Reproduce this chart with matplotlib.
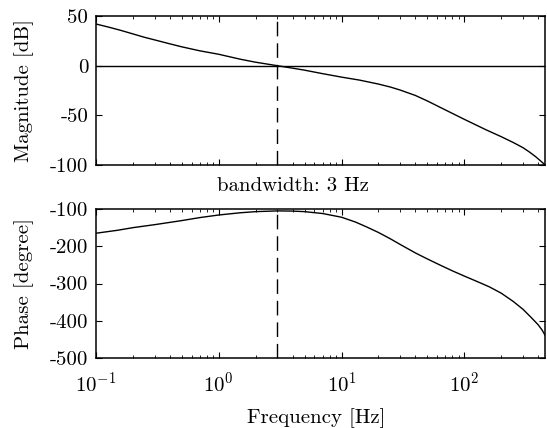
import matplotlib
matplotlib.use("Agg")
import matplotlib.pyplot as plt
import numpy as np

# values
mag_freq = [0.1, 0.13, 0.16, 0.2, 0.25, 0.3, 0.4, 0.5, 0.7, 1, 1.5, 2, 3, 4,
            5, 7, 10, 14, 20, 25, 30, 40, 50, 70, 100, 150, 200, 250, 300,
            340, 380, 410, 440, 455]
magnitude = [42, 38.5, 35.5, 32, 28.5, 26, 22, 19, 15, 11.5, 6.5, 3.5, 0,
             -2.5, -4.5, -8, -11.5, -14.5, -18.5, -21.5, -24.5, -30, -35.5,
             -44.5, -54, -64.5, -71.5, -77.3, -82.5, -87, -91.5, -95, -98.3,
             -100]

ph_freq = [0.1, 0.15, 0.2, 0.3, 0.5, 0.7, 1, 1.5, 2, 3, 4, 5, 7, 10, 13, 16,
           20, 25, 30, 40, 50, 63, 80, 100, 130, 160, 200, 250, 300, 350,
           400, 430, 455]
phase = [-165, -157, -150, -142, -131, -123, -116, -110, -107, -105, -105.5,
         -107, -112, -122, -135, -148, -163, -180, -195, -218, -234, -250,
         -266, -280, -296, -309, -326, -348, -369, -391, -411, -425, -439]

bandwidth = 3

plt.rcParams['font.family'] = 'serif'
plt.rcParams['font.serif'] = ['cmr10']
plt.rcParams['mathtext.fontset'] = 'cm'
plt.rcParams['axes.unicode_minus'] = False
plt.rcParams['axes.formatter.use_mathtext'] = False
plt.rcParams['font.size'] = 15

fig = plt.figure(figsize=(5.47, 4.28), dpi=100)
ax1 = fig.add_axes([0.1755, 0.6145, 0.821, 0.348])
ax2 = fig.add_axes([0.1755, 0.1636, 0.821, 0.348])

ax1.semilogx(mag_freq, magnitude, color='black', lw=1.0)
ax1.axhline(0, color='black', lw=1.0)
ax1.axvline(bandwidth, color='black', lw=1.0, dashes=(10.5, 5))
ax1.set_ylim(-100, 50)
ax1.set_yticks([50, 0, -50, -100])
ax1.set_ylabel('Magnitude [dB]')
ax1.tick_params(labelbottom=False)

ax2.semilogx(ph_freq, phase, color='black', lw=1.0)
ax2.axvline(bandwidth, color='black', lw=1.0, dashes=(10.5, 5))
ax2.set_ylim(-500, -100)
ax2.set_yticks([-100, -200, -300, -400, -500])
ax2.set_ylabel('Phase [degree]')
ax2.set_xlabel('Frequency [Hz]')

for ax in (ax1, ax2):
    ax.set_xlim(0.1, 455)
    ax.tick_params(which='both', direction='in', top=True, right=True)
    ax.tick_params(which='major', length=4.5, width=0.8)
    ax.tick_params(which='minor', length=2.5, width=0.6)
    ax.tick_params(axis='y', pad=5.5)
    ax.yaxis.set_label_coords(-0.138, 0.5)
    for s in ax.spines.values():
        s.set_linewidth(1.1)

ax2.tick_params(axis='x', pad=10)
ax2.xaxis.set_label_coords(0.49, -0.335)
fig.text(0.535, 0.565, 'bandwidth: %d Hz' % bandwidth, ha='center', va='center')

fig.savefig('out.png', dpi=100)
